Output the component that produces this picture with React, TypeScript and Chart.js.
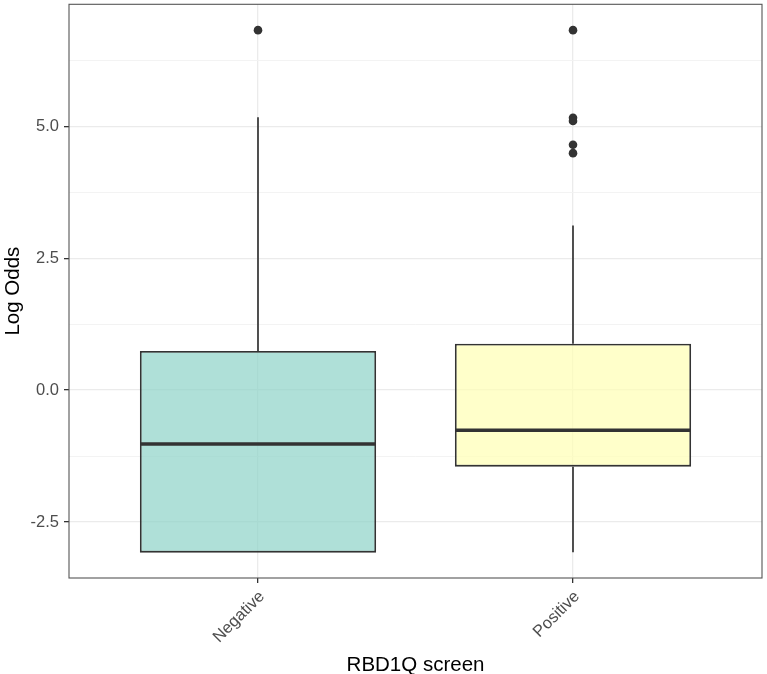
import React, { useEffect, useRef } from 'react';
import { Chart, registerables } from 'chart.js';

Chart.register(...registerables);

const categories = ['Negative', 'Positive'];
const q1 = [-3.08, -1.45];
const medians = [-1.02, -0.76];
const q3 = [0.74, 0.88];
const whiskerLow = [-3.08, -3.07];
const whiskerHigh = [5.17, 3.12];
const outliers = [[6.82], [6.82, 5.16, 5.1, 4.65, 4.49]];
const yMajorTicks = [-2.5, 0, 2.5, 5];
const yMinorTicks = [-1.25, 1.25, 3.75, 6.25];
const yRange = [-3.56, 7.31];
const xRange = [0.4, 2.6];
const fillColors = ['rgba(141,211,199,0.7)', 'rgba(255,255,179,0.7)'];

const FONT = "'Liberation Sans', Arial, sans-serif";
const INK = '#333333';
const BOX_DATASET = 4;

const framePlugin = {
  id: 'frame',
  afterDatasetsDraw(chart: any) {
    const { ctx, chartArea } = chart;
    const yScale = chart.scales.y;
    const meta = chart.getDatasetMeta(BOX_DATASET);
    ctx.save();
    ctx.strokeStyle = INK;
    ctx.lineWidth = 3.6;
    meta.data.forEach((bar: any, i: number) => {
      const y = yScale.getPixelForValue(medians[i]);
      ctx.beginPath();
      ctx.moveTo(bar.x - bar.width / 2 + 0.5, y);
      ctx.lineTo(bar.x + bar.width / 2 - 0.5, y);
      ctx.stroke();
    });
    ctx.restore();
  },
  afterDraw(chart: any) {
    const { ctx, chartArea } = chart;
    ctx.save();
    ctx.strokeStyle = '#555555';
    ctx.lineWidth = 1.1;
    ctx.strokeRect(chartArea.left, chartArea.top, chartArea.right - chartArea.left, chartArea.bottom - chartArea.top);
    ctx.restore();
  },
};

export default function App() {
  const ref = useRef<HTMLCanvasElement | null>(null);

  useEffect(() => {
    if (!ref.current) return;
    const pos = categories.map((_, i) => i + 1);
    const whiskerSets: any[] = [];
    categories.forEach((_, i) => {
      whiskerSets.push({
        type: 'line',
        data: [{ x: pos[i], y: q3[i] }, { x: pos[i], y: whiskerHigh[i] }],
        borderColor: INK,
        borderWidth: 1.7,
        pointRadius: 0,
        fill: false,
      });
      whiskerSets.push({
        type: 'line',
        data: [{ x: pos[i], y: whiskerLow[i] }, { x: pos[i], y: q1[i] }],
        borderColor: INK,
        borderWidth: 1.7,
        pointRadius: 0,
        fill: false,
      });
    });
    const outlierPoints: any[] = [];
    outliers.forEach((arr, i) => arr.forEach((v) => outlierPoints.push({ x: pos[i], y: v })));

    const chart = new Chart(ref.current, {
      type: 'bar',
      data: {
        datasets: [
          ...whiskerSets,
          {
            data: categories.map((_, i) => ({ x: pos[i], y: [q1[i], q3[i]] })),
            backgroundColor: fillColors,
            borderColor: INK,
            borderWidth: 1.8,
            borderSkipped: false,
            barPercentage: 0.75,
            categoryPercentage: 1,
          },
          {
            type: 'scatter',
            data: outlierPoints,
            backgroundColor: INK,
            borderWidth: 0,
            pointRadius: 4.3,
          },
        ] as any,
      },
      options: {
        animation: false,
        responsive: false,
        layout: { padding: { top: 4, right: 5, left: 0, bottom: 0 } },
        plugins: { legend: { display: false }, tooltip: { enabled: false } },
        scales: {
          x: {
            type: 'linear',
            min: xRange[0],
            max: xRange[1],
            offset: false,
            afterBuildTicks: (scale: any) => {
              scale.ticks = pos.map((v) => ({ value: v }));
            },
            afterFit: (scale: any) => {
              scale.height = 96;
              scale.paddingLeft = 0;
              scale.paddingRight = 0;
            },
            grid: { offset: false, color: '#ebebeb', lineWidth: 1.3, tickLength: 5, tickColor: INK, tickWidth: 1.3 },
            border: { display: false },
            ticks: {
              autoSkip: false,
              maxRotation: 45,
              minRotation: 45,
              padding: 4,
              labelOffset: 4,
              color: '#4d4d4d',
              font: { family: FONT, size: 16.5 },
              callback: (v: any) => categories[Math.round(Number(v)) - 1] ?? '',
            },
            title: {
              display: true,
              text: 'RBD1Q screen',
              color: '#000',
              font: { family: FONT, size: 20.5, lineHeight: 0.86 },
              padding: { top: 0, bottom: 0 },
            },
          },
          y: {
            type: 'linear',
            min: yRange[0],
            max: yRange[1],
            afterBuildTicks: (scale: any) => {
              scale.ticks = [...yMajorTicks, ...yMinorTicks].sort((a, b) => a - b).map((v) => ({ value: v }));
            },
            afterFit: (scale: any) => {
              scale.width = 69;
              scale.paddingTop = 0;
              scale.paddingBottom = 0;
            },
            grid: {
              color: (c: any) => (yMajorTicks.includes(c.tick?.value) ? '#ebebeb' : '#f2f2f2'),
              lineWidth: (c: any) => (yMajorTicks.includes(c.tick?.value) ? 1.3 : 0.9),
              tickLength: 5,
              tickColor: (c: any) => (yMajorTicks.includes(c.tick?.value) ? INK : 'rgba(0,0,0,0)'),
              tickWidth: 1.3,
            },
            border: { display: false },
            ticks: {
              padding: 5,
              color: '#4d4d4d',
              font: { family: FONT, size: 16.5 },
              callback: (v: any) => (yMajorTicks.includes(Number(v)) ? Number(v).toFixed(1) : ''),
            },
            title: {
              display: true,
              text: 'Log Odds',
              color: '#000',
              font: { family: FONT, size: 20.5, lineHeight: 0.86 },
              padding: { top: 4.5, bottom: 0 },
            },
          },
        },
      } as any,
      plugins: [framePlugin],
    });
    return () => chart.destroy();
  }, []);

  return (
    <div style={{ position: 'absolute', left: 0, top: 0, width: 767, height: 674, background: '#fff' }}>
      <canvas ref={ref} width={767} height={674} style={{ display: 'block' }} />
    </div>
  );
}
